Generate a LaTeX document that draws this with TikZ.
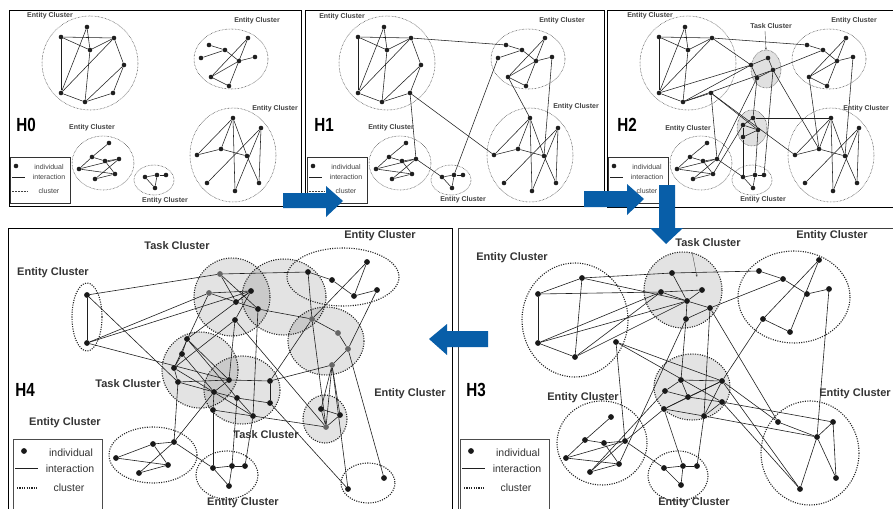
\documentclass[tikz,border=0pt]{standalone}
\usepackage{fontspec}
\setmainfont{Liberation Sans}
\usepackage{graphicx}
\usetikzlibrary{arrows.meta}
\definecolor{arrowblue}{RGB}{8,94,168}
\tikzset{
 sdot/.style={circle, fill=black!88, draw=none, inner sep=0pt, minimum size=4.6pt},
 bdot/.style={circle, fill=black!90, draw=none, inner sep=0pt, minimum size=5.8pt},
 gdot/.style={bdot, fill=black!60},
 sedge/.style={draw=black!88, line width=0.55pt},
 bedge/.style={draw=black!88, line width=0.6pt},
 scl/.style={draw=black!75, line width=0.55pt, dash pattern=on 0.55pt off 0.9pt},
 bcl/.style={draw=black!85, line width=1.1pt, dash pattern=on 1.1pt off 1.3pt},
 taskfill/.style={fill=black, fill opacity=0.11},
 slab/.style={font=\bfseries\fontsize{7}{8}\selectfont, text=black!75, inner sep=0pt},
 blab/.style={font=\bfseries\fontsize{11}{12}\selectfont, text=black!80, inner sep=0pt},
 hlab/.style={font=\bfseries\fontsize{19}{20}\selectfont, inner sep=0pt},
 sleg/.style={font=\fontsize{7}{8}\selectfont, text=black!75, inner sep=0pt},
 bleg/.style={font=\fontsize{10.5}{12}\selectfont, text=black!80, inner sep=0pt},
 panelbox/.style={draw=black, line width=0.9pt},
 pointer/.style={draw=black!70, line width=0.4pt, -{Stealth[length=2.5pt,width=2pt]}},
}
\newcommand{\topClusters}{%
 \draw[scl] (90,63) ellipse [x radius=48, y radius=47];
 \draw[scl] (231,59) ellipse [x radius=37, y radius=30];
 \draw[scl] (103,163) ellipse [x radius=31, y radius=27];
 \draw[scl] (154,180) ellipse [x radius=20, y radius=15];
 \draw[scl] (233,155) ellipse [x radius=43, y radius=47];
}
\newcommand{\topNodes}{%
 \foreach \n/\x/\y in {a1/87/27,a2/61/37,a3/114/38,a4/90/50,a6/61/93,a7/113/93,a8/85/102,
  b1/209/45,b2/225/50,b4/248/38,b5/239/61,b6/255/57,b7/211/77,b8/229/86,
  c1/109/143,c2/92/157,c3/105/161,c4/119/159,c5/79/169,c6/115/174,c7/95/179,
  d1/145/177,d2/157/175,d3/166/175,d4/155/188,
  e1/233/118,e2/261/128,e3/221/149,e4/197/155,e5/247/156,e6/207/183,e7/259/183,e8/235/191}
  \node[sdot] (\n) at (\x,\y) {};
}
\newcommand{\topEdges}{%
 \foreach \u/\v in {a2/a3,a2/a4,a4/a3,a1/a4,a1/a6,a2/a6,a6/a3,a4/a8,a6/a8,a8/a7,
  b1/b2,b2/b5,b5/b6,b4/b7,b4/b8,b7/b8,b5/b7,
  c1/c2,c2/c3,c3/c4,c5/c2,c5/c4,c5/c6,c3/c6,c4/c7,c7/c6,
  d1/d2,d2/d3,d1/d4,d2/d4,
  e1/e4,e1/e3,e1/e8,e1/e5,e5/e7,e2/e6,e2/e8,e2/e7,e4/e3,e3/e5}
  \draw[sedge] (\u) -- (\v);
}
\newcommand{\topLegend}{%
 \draw[line width=0.6pt, draw=black!80] (10,157) rectangle (70,203);
 \node[sdot] (lgdot) at (16,166) {};
 \node[sleg] (lgind) at (49,167) {individual};
 \coordinate (lgl1) at (12,177); \coordinate (lgl2) at (25,177);
 \draw[sedge] (lgl1) -- (lgl2);
 \node[sleg] (lgint) at (49,177) {interaction};
 \coordinate (lgc1) at (12,191); \coordinate (lgc2) at (27,191);
 \draw[scl] (lgc1) -- (lgc2);
 \node[sleg] (lgclu) at (49,191) {cluster};
}
\newcommand{\botLegend}{%
 \draw[line width=0.6pt, draw=black!70] (13,439) rectangle (102,515);
 \node[bdot] (lgdot) at (24,451) {};
 \node[bleg] (lgind) at (71,453) {individual};
 \coordinate (lgl1) at (15,468); \coordinate (lgl2) at (38,468);
 \draw[bedge] (lgl1) -- (lgl2);
 \node[bleg] (lgint) at (70,469) {interaction};
 \coordinate (lgc1) at (17,488); \coordinate (lgc2) at (38,488);
 \draw[bcl] (lgc1) -- (lgc2);
 \node[bleg] (lgclu) at (69,488) {cluster};
}
\begin{document}
\begin{tikzpicture}[x=1pt,y=-1pt]
\useasboundingbox (0,0) rectangle (893,508);
\fill[white] (0,0) rectangle (893,508);
% panel frames
\draw[panelbox] (9,10) rectangle (301,206);
\draw[panelbox] (305,10) rectangle (604,206);
\draw[panelbox] (607,10) rectangle (910,207);
\draw[panelbox] (8,228) rectangle (452,520);
\draw[panelbox, draw=black!75] (458,228) rectangle (910,520);

% ---------------- H0
\begin{scope}[name prefix=h0-]
 \topClusters
 \topNodes
 \node[sdot] (a5) at (124,65) {};
 \node[sdot] (b3) at (201,58) {};
 \topEdges
 \foreach \u/\v in {a7/a5,a5/a3,a8/a5,b3/b2} \draw[sedge] (\u) -- (\v);
 \topLegend
\end{scope}
% ---------------- H1
\begin{scope}[shift={(297,0)}, name prefix=h1-]
 \topClusters
 \topNodes
 \node[sdot] (a5) at (124,65) {};
 \node[sdot] (b3) at (201,58) {};
 \topEdges
 \foreach \u/\v in {a7/a5,a5/a3,a8/a5,b3/b2,a3/b1,a7/c4,a7/e4,c4/d1,b3/d2,b7/e1,b6/e5}
  \draw[sedge] (\u) -- (\v);
 \topLegend
\end{scope}
% ---------------- H2
\begin{scope}[shift={(598,0)}, name prefix=h2-]
 \topClusters
 \draw[scl, fill=black!12] (168,69) ellipse [x radius=15, y radius=19];
 \draw[scl, fill=black!12] (154,128) ellipse [x radius=15, y radius=18];
 \topNodes
 \foreach \n/\x/\y in {T1/170/58,T2/153/65,T3/175/70,T4/159/78,U1/155/118,U2/145/125,U3/160/130,U4/145/137}
  \node[sdot] (\n) at (\x,\y) {};
 \topEdges
 \foreach \u/\v in {a3/b1,a7/c4,a7/e4,c4/d1,b7/e3,b6/e5,a3/T2,a6/T2,a8/T2,a8/T3,T3/b2,
  T1/T2,T1/T3,T2/T4,T3/T4,T4/U1,T3/d3,T3/e3,U1/e1,U1/U2,U1/U3,U2/U3,U3/U4,U2/U4,U4/d1,
  a7/U3,T4/c4,c6/U2,U3/d2}
  \draw[sedge] (\u) -- (\v);
 \topLegend
\end{scope}

% top labels
\node[slab] (l01) at (50,16) {Entity Cluster};
\node[slab] (l02) at (257,21) {Entity Cluster};
\node[slab] (l03) at (275,109) {Entity Cluster};
\node[slab] (l04) at (92,128) {Entity Cluster};
\node[slab] (l05) at (165,201) {Entity Cluster};
\node[hlab] (h0) at (26,125) {\scalebox{0.8}[1]{H0}};
\node[slab] (l11) at (342,17) {Entity Cluster};
\node[slab] (l12) at (562,21) {Entity Cluster};
\node[slab] (l13) at (576,107) {Entity Cluster};
\node[slab] (l14) at (391,128) {Entity Cluster};
\node[slab] (l15) at (463,200) {Entity Cluster};
\node[hlab] (h1) at (324,125) {\scalebox{0.8}[1]{H1}};
\node[slab] (l21) at (650,16) {Entity Cluster};
\node[slab] (l22) at (854,21) {Entity Cluster};
\node[slab] (l23) at (866,109) {Entity Cluster};
\node[slab] (l24) at (688,129) {Entity Cluster};
\node[slab] (l25) at (763,200) {Entity Cluster};
\node[slab] (l26) at (771,26) {Task Cluster};
\node[hlab] (h2) at (627,125) {\scalebox{0.8}[1]{H2}};
\coordinate (p2a) at (765,31); \coordinate (p2b) at (766,50);
\draw[pointer] (p2a) -- (p2b);

% ---------------- H3
\begin{scope}[name prefix=h3-]
 \draw[bcl] (575,320) ellipse [x radius=53, y radius=57];
 \draw[bcl,taskfill] (683,290) ellipse [x radius=39, y radius=38];
 \draw[bcl] (794,297) ellipse [x radius=56, y radius=46];
 \draw[bcl,taskfill] (692,387) ellipse [x radius=38, y radius=33];
 \draw[bcl] (602,443) ellipse [x radius=45, y radius=42];
 \draw[bcl] (678,476) ellipse [x radius=30, y radius=25];
 \draw[bcl] (810,453) ellipse [x radius=49, y radius=52];
 \foreach \n/\x/\y in {A1/582/278,A2/538/294,A3/538/343,A4/575/357,A5/616/342,
  T1/672/273,T2/661/292,T3/702/290,T4/687/301,T5/710/308,T6/686/319,
  B1/759/271,B2/783/279,B3/819/260,B4/807/294,B5/829/289,B6/763/319,B7/790/332,
  U1/681/380,U2/722/381,U3/665/391,U4/688/397,U5/722/402,U6/664/409,U7/704/416,
  C1/611/417,C2/585/440,C3/604/443,C4/625/441,C5/566/458,C6/619/464,C7/590/472,
  D1/664/468,D2/683/466,D3/697/466,D4/681/485,
  E1/778/422,E2/833/422,E3/817/437,E4/836/478,E5/800/489}
  \node[bdot] (\n) at (\x,\y) {};
 \foreach \u/\v in {A1/A2,A2/A3,A3/A4,A1/A4,A1/T1,A1/T4,A2/T2,A3/T2,A3/T4,A4/T2,A4/T4,A5/U2,A5/U5,A5/C4,
  T1/T4,T2/T3,T2/T4,T3/T4,T4/T5,T4/T6,T5/T6,T1/B1,T5/B2,T6/U1,T5/U7,U7/D3,T5/E1,C6/T6,
  B1/B2,B2/B4,B4/B5,B3/B6,B3/B7,B6/B7,B6/U2,B5/E3,
  U1/U2,U1/U3,U1/U4,U2/U4,U3/U4,U4/U5,U4/U6,U6/U7,U2/U7,U5/U7,U2/U6,
  U2/E1,U2/E5,U5/E5,U5/E2,U7/E3,U6/C4,U3/C7,U6/D2,
  C1/C2,C2/C3,C3/C4,C2/C5,C5/C4,C5/C6,C3/C6,C4/C7,C6/C7,C4/D1,
  D1/D2,D2/D3,D2/D4,D1/D4,
  E1/E3,E2/E3,E2/E4,E3/E4,E3/E5}
  \draw[bedge] (\u) -- (\v);
\end{scope}
\begin{scope}[shift={(447,0)}, name prefix=h3l-]
 \botLegend
\end{scope}
\node[blab] (m1) at (512,258) {Entity Cluster};
\node[blab] (m2) at (708,243) {Task Cluster};
\node[blab] (m3) at (832,236) {Entity Cluster};
\node[blab] (m4) at (583,398) {Entity Cluster};
\node[blab] (m5) at (694,503) {Entity Cluster};
\node[blab] (m6) at (855,394) {Entity Cluster};
\node[hlab] (h3) at (476,390) {\scalebox{0.8}[1]{H3}};
\coordinate (p3a) at (692,252); \coordinate (p3b) at (697,277);
\draw[pointer] (p3a) -- (p3b);

% ---------------- H4
\begin{scope}[name prefix=h4-]
 \draw[bcl] (87,317) ellipse [x radius=15, y radius=34];
 \draw[bcl,taskfill] (232,297) ellipse [x radius=38, y radius=39];
 \draw[bcl,taskfill] (284,297) ellipse [x radius=42, y radius=38];
 \draw[bcl] (343,277) ellipse [x radius=56, y radius=29];
 \draw[bcl,taskfill] (326,341) ellipse [x radius=38, y radius=34];
 \draw[bcl,taskfill] (200,370) ellipse [x radius=38, y radius=38];
 \draw[bcl,taskfill] (242,390) ellipse [x radius=38, y radius=34];
 \draw[bcl,taskfill] (325,419) ellipse [x radius=22, y radius=24];
 \draw[bcl] (153,455) ellipse [x radius=44, y radius=28];
 \draw[bcl] (227,475) ellipse [x radius=31, y radius=24];
 \draw[bcl] (368,483) ellipse [x radius=27, y radius=20];
 \foreach \n/\x/\y in {L1/87/295,L2/87/343,N3/236/302,N4/251/291,N5/258/309,N6/235/320,
  R1/308/272,R2/332/280,R3/367/262,R4/354/296,R5/377/290,
  M1/187/339,M2/182/354,M3/174/368,M4/178/382,
  P1/229/380,P2/270/381,P3/214/392,P4/237/398,P5/270/403,P6/213/410,P7/253/416,
  S1/321/409,S2/340/415,
  W1/153/444,W2/174/442,W3/116/458,W4/168/465,W5/139/473,
  X1/213/468,X2/232/466,X3/245/466,X4/229/486,Y1/348/489,Y2/384/478}
  \node[bdot] (\n) at (\x,\y) {};
 \foreach \n/\x/\y in {N1/220/274,N2/209/293,Q1/312/319,Q2/338/333,Q3/348/349,Q4/332/365,S3/326/427}
  \node[gdot] (\n) at (\x,\y) {};
 \foreach \u/\v in {L1/L2,L1/N1,L1/M4,L2/N2,L2/N4,L2/P1,
  N1/R1,N1/N3,N1/N5,N2/N4,N2/N3,N3/N5,N4/N6,N3/N4,N5/Q1,N5/P7,N2/M3,N4/M1,N6/M3,N6/S3,N6/P1,
  R1/R2,R2/R4,R4/R5,R3/R4,R3/Q1,R1/Q1,R5/Q3,
  Q1/Q2,Q2/Q3,Q3/Q4,Q1/S3,Q4/S1,Q4/S2,Q4/S3,Q3/Y2,Q4/Y1,Q1/P2,P2/Q4,
  S1/S2,S2/S3,S1/S3,S3/P7,
  M1/M2,M2/M3,M3/M4,M1/P1,M1/P4,M2/P3,M3/P7,M4/P1,M4/P3,M4/W2,
  P1/P2,P1/P3,P3/P4,P4/P5,P4/P7,P6/P7,P3/P6,P2/P5,P5/Y1,P6/X1,P7/X3,P4/X2,
  W3/W1,W1/W2,W1/W4,W3/W4,W5/W4,W5/W2,W2/P3,
  W2/X1,X1/X2,X2/X3,X1/X4,X2/X4}
  \draw[bedge] (\u) -- (\v);
 \botLegend
\end{scope}
\node[blab] (k1) at (177,246) {Task Cluster};
\node[blab] (k2) at (53,273) {Entity Cluster};
\node[blab] (k3) at (380,236) {Entity Cluster};
\node[blab] (k4) at (128,384) {Task Cluster};
\node[blab] (k5) at (410,394) {Entity Cluster};
\node[blab] (k6) at (65,423) {Entity Cluster};
\node[blab] (k7) at (266,435) {Task Cluster};
\node[blab] (k8) at (243,503) {Entity Cluster};
\node[hlab] (h4) at (25,390) {\scalebox{0.8}[1]{H4}};

% ---------------- blue arrows
\fill[arrowblue] (283,193) -- (326,193) -- (326,186) -- (343,201) -- (326,217) -- (326,208) -- (283,208) -- cycle;
\fill[arrowblue] (584,191) -- (627,191) -- (627,184) -- (644,199) -- (627,215) -- (627,207) -- (584,207) -- cycle;
\fill[arrowblue] (659,185) -- (675,185) -- (675,228) -- (683,228) -- (666,244) -- (650,228) -- (659,228) -- cycle;
\fill[arrowblue] (488,331) -- (447,331) -- (447,324) -- (429,339) -- (447,355) -- (447,347) -- (488,347) -- cycle;
\end{tikzpicture}
\end{document}
